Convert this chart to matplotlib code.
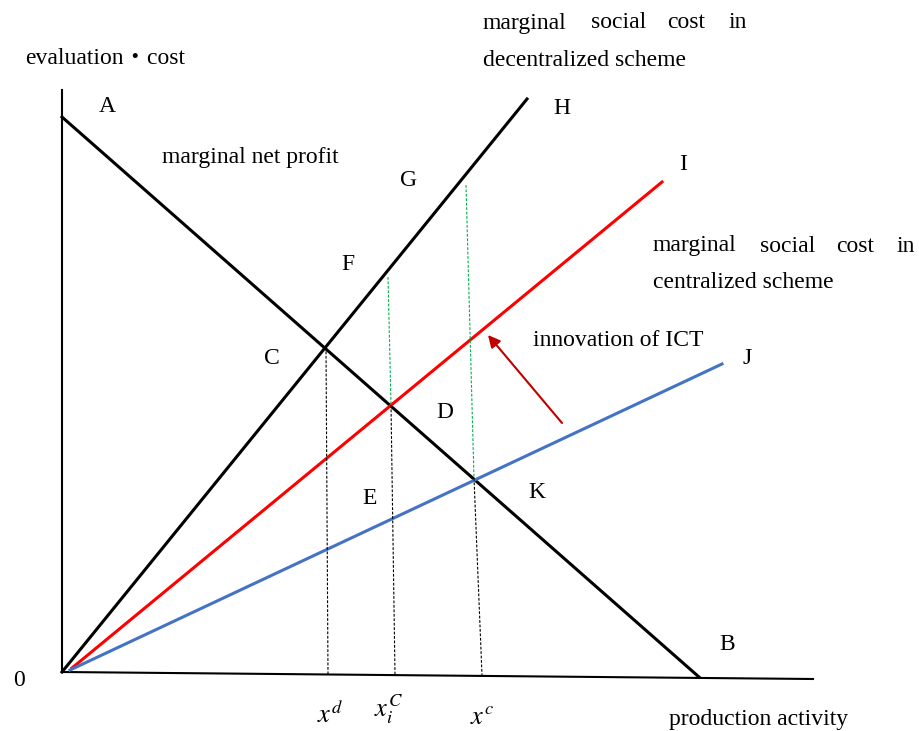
import matplotlib
matplotlib.use("Agg")
import matplotlib.pyplot as plt

plt.rcParams["font.family"] = ["Liberation Serif", "Noto Sans CJK JP", "DejaVu Serif"]
plt.rcParams["mathtext.fontset"] = "stix"

# schematic coordinates: quantity (right) and cost (up), origin at the axes corner
yaxis_q, yaxis_c = [0, 0], [0, 582]
xaxis_q, xaxis_c = [0, 751], [0, -7]

profit_q, profit_c = [0, 637], [555, -5]          # A -> B, marginal net profit
decent_q, decent_c = [0, 465], [0, 573]           # 0 -> H
central_q, central_c = [10, 600], [4, 490]        # 0 -> I
ict_q, ict_c = [8, 660], [2, 308]                 # 0 -> J

# projection lines: (top q, top c, mid q, mid c, bottom q, bottom c)
xd_drop = (264, 325, 266, -2)
xi_drop = (326, 395, 329, 267, 333, -2)
xc_drop = (404, 487, 412, 194, 420, -3)

arrow_tail = (500, 249)
arrow_head = (426, 337)

point_labels = {"A": (45, 565), "G": (347, 492), "F": (286, 407), "H": (500, 564),
                "I": (621, 507), "J": (685, 314), "C": (210, 313), "D": (383, 259),
                "E": (308, 173), "K": (475, 179), "B": (665, 28), "0": (-43, -8)}

fig = plt.figure(figsize=(9.2, 7.31), dpi=100)
ax = fig.add_axes([0, 0, 1, 1])
ax.set_xlim(-62, 858)
ax.set_ylim(-59, 672)
ax.axis("off")

ax.plot(yaxis_q, yaxis_c, color="k", lw=1.5)
ax.plot(xaxis_q, xaxis_c, color="k", lw=1.5)
ax.plot(profit_q, profit_c, color="k", lw=2.2)
ax.plot(decent_q, decent_c, color="k", lw=2.2)
ax.plot(central_q, central_c, color="#ff0000", lw=2.2)
ax.plot(ict_q, ict_c, color="#4472c4", lw=2.2)

dash = dict(lw=0.8, ls=(0, (2.5, 1.5)))
ax.plot(xd_drop[0::2], xd_drop[1::2], color="k", **dash)
for d in (xi_drop, xc_drop):
    ax.plot(d[0:3:2], d[1:4:2], color="#00b050", **dash)
    ax.plot(d[2:5:2], d[3:6:2], color="k", **dash)

ax.annotate("", xy=arrow_head, xytext=arrow_tail,
            arrowprops=dict(arrowstyle="-|>", color="#c00000", lw=1.5,
                            mutation_scale=18, shrinkA=0, shrinkB=0))

fs = 17
for name, (q, c) in point_labels.items():
    ax.text(q, c, name, fontsize=fs, ha="center", va="center")

ax.text(-37, 614, "evaluation・cost", fontsize=fs, va="center")
ax.text(100, 515, "marginal net profit", fontsize=fs, va="center")
ax.text(471, 332, "innovation of ICT", fontsize=fs, va="center")
ax.text(607, -48, "production activity", fontsize=fs, va="center")

words = ["marginal", "social", "cost", "in"]
for w, q in zip(words, [421, 529, 605, 667]):
    ax.text(q, 649, w, fontsize=fs, va="center")
ax.text(421, 612, "decentralized scheme", fontsize=fs, va="center")
for w, q in zip(words, [591, 698, 774, 835]):
    ax.text(q, 426, w, fontsize=fs, va="center")
ax.text(591, 389, "centralized scheme", fontsize=fs, va="center")

ax.text(268, -42, r"$x^d$", fontsize=fs + 2, ha="center", va="center")
ax.text(326, -37, r"$x_i^C$", fontsize=fs + 2, ha="center", va="center")
ax.text(420, -46, r"$x^c$", fontsize=fs + 2, ha="center", va="center")

fig.savefig("out.png", dpi=100)
